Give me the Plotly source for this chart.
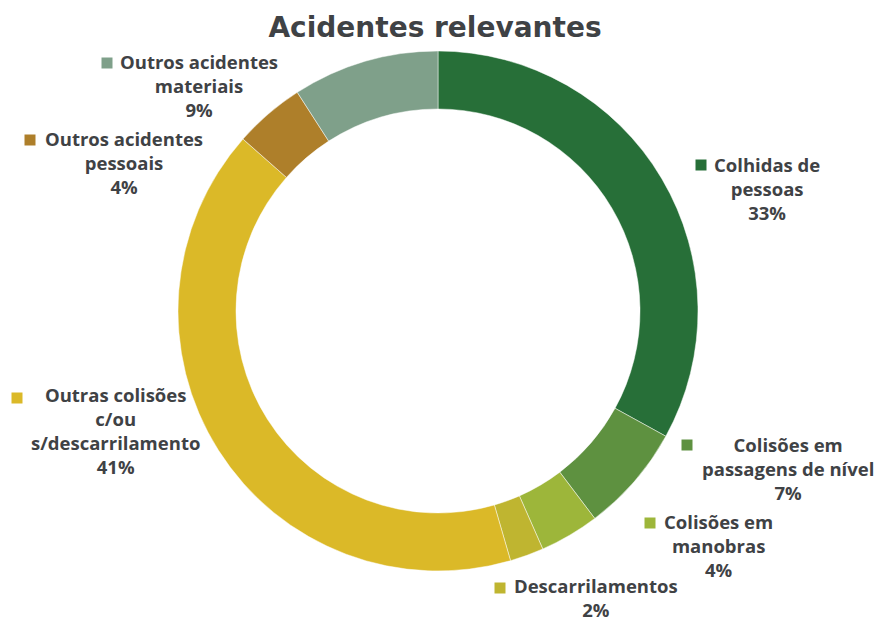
import plotly.graph_objects as go

# Relevant railway accidents, share by category (clockwise from 12 o'clock)
categories = [
    "Colhidas de pessoas",
    "Colisões em passagens de nível",
    "Colisões em manobras",
    "Descarrilamentos",
    "Outras colisões c/ou s/descarrilamento",
    "Outros acidentes pessoais",
    "Outros acidentes materiais",
]
label_lines = [
    ["Colhidas de", "pessoas"],
    ["Colisões em", "passagens de nível"],
    ["Colisões em", "manobras"],
    ["Descarrilamentos"],
    ["Outras colisões", "c/ou", "s/descarrilamento"],
    ["Outros acidentes", "pessoais"],
    ["Outros acidentes", "materiais"],
]
values = [33.0, 6.7, 3.7, 2.1, 41.0, 4.4, 9.1]
colors = ["#276f38", "#5e9140", "#9db63a", "#bfb530", "#dbb928", "#ae7f2a", "#7fa08a"]

W, H = 877, 622
TEXT = "#3f4245"
LABEL_FONT = "Open Sans"
TITLE_FONT = "DejaVu Sans"


def px(x):
    return x / W


def py(y):
    return 1 - y / H


# Donut geometry (pixels)
cx, cy, r = 438, 311, 260

fig = go.Figure(
    go.Pie(
        labels=categories,
        values=values,
        hole=0.777,
        sort=False,
        direction="clockwise",
        rotation=0,
        textinfo="none",
        hoverinfo="label+percent",
        marker=dict(colors=colors, line=dict(color="rgba(255,255,255,0.6)", width=0.8)),
        domain=dict(x=[px(cx - r), px(cx + r)], y=[py(cy + r), py(cy - r)]),
        showlegend=False,
    )
)

# Label block centres and key square centres (pixels)
label_pos = [(767, 188.5), (788, 468), (718, 545), (596, 597), (116, 430.5), (124, 163), (199, 86)]
key_pos = [(701, 165), (687, 445), (650, 523), (500, 588), (17, 398), (30, 140), (107, 63)]

total = sum(values)
annotations = []
shapes = []
for lines, v, c, (lx, ly), (kx, ky) in zip(label_lines, values, colors, label_pos, key_pos):
    pct = f"{round(v / total * 100)}%"
    annotations.append(dict(
        x=px(lx), y=py(ly), xref="paper", yref="paper",
        xanchor="center", yanchor="middle", align="center",
        text="<br>".join(lines + [pct]), showarrow=False, borderpad=0,
        font=dict(family=LABEL_FONT, size=18.5, color=TEXT, weight="bold"),
    ))
    s = 5.5
    shapes.append(dict(
        type="rect", xref="paper", yref="paper",
        x0=px(kx - s), x1=px(kx + s), y0=py(ky + s), y1=py(ky - s),
        fillcolor=c, line=dict(width=0),
    ))

fig.update_layout(
    width=W, height=H,
    margin=dict(l=0, r=0, t=0, b=0),
    paper_bgcolor="white", plot_bgcolor="white",
    title=dict(
        text="<b>Acidentes relevantes</b>",
        x=px(435), y=py(27), xanchor="center", yanchor="middle",
        xref="paper", yref="container",
        font=dict(family=TITLE_FONT, size=28, color=TEXT),
    ),
    annotations=annotations,
    shapes=shapes,
)

fig.write_html("out.html")
